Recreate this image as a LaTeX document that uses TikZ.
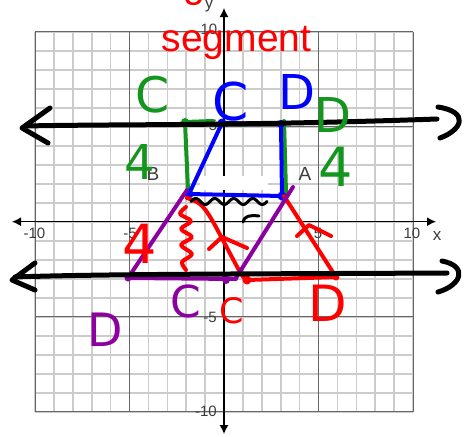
\documentclass[tikz,border=0pt]{standalone}
\usepackage{fontspec}
\setmainfont{Liberation Sans}
\newfontfamily\hand{DejaVu Sans}
\usetikzlibrary{arrows.meta}
\definecolor{hgreen}{RGB}{20,150,30}
\definecolor{hblue}{RGB}{0,0,255}
\definecolor{hred}{RGB}{255,0,0}
\definecolor{hpurple}{RGB}{140,0,160}
\definecolor{ticklab}{RGB}{60,60,60}
\begin{document}
\begin{tikzpicture}[x=1pt,y=-1pt,
  minorgrid/.style={draw=black!20,line width=1.6pt},
  majorgrid/.style={draw=black!60,line width=1pt},
  axisline/.style={draw=black,line width=1.3pt,{Latex[length=9pt,width=9pt]}-{Latex[length=9pt,width=9pt]}},
  ticktext/.style={inner sep=0pt,text=ticklab,font=\fontsize{15}{15}\selectfont},
  pointlab/.style={inner sep=0pt,text=ticklab,font=\fontsize{19}{19}\selectfont},
  titletext/.style={inner sep=0pt,text=hred,font=\fontsize{39}{39}\selectfont},
  pen/.style={line width=4pt,line cap=round,line join=round},
  blackline/.style={draw=black,line width=5pt,line cap=round,line join=round},
  thinpen/.style={draw=black,line width=3pt,line cap=round,line join=round},
  handlab/.style={inner sep=0pt,font=\hand\fontsize{#1}{#1}\selectfont},
  handlab/.default=48
]
\useasboundingbox (0,0) rectangle (467,437);
\clip (0,0) rectangle (467,437);
\fill[white] (0,0) rectangle (467,437);

% grid
\foreach \k in {0,...,20}{
  \draw[minorgrid] ({35+18.9*\k},31.7) -- ({35+18.9*\k},411.7);
  \draw[minorgrid] (35,{31.7+19*\k}) -- (413,{31.7+19*\k});
}
\foreach \k in {0,5,15,20}{
  \draw[majorgrid] ({35+18.9*\k},31.7) -- ({35+18.9*\k},411.7);
  \draw[majorgrid] (35,{31.7+19*\k}) -- (413,{31.7+19*\k});
}
% axes
\coordinate (xl) at (12,221.7);
\coordinate (xr) at (436,221.7);
\coordinate (yt) at (224,8);
\coordinate (yb) at (224,434);
\draw[axisline] (xl) -- (xr);
\draw[axisline] (yb) -- (yt);

% tick labels
\node[ticktext] (tm10) at (34.5,233) {-10};
\node[ticktext] (tm5) at (130,233) {-5};
\node[ticktext] (tp5) at (318,233) {5};
\node[ticktext] (tp10) at (412,233) {10};
\node[ticktext,font=\fontsize{17}{17}\selectfont] (xlab) at (437,236) {x};
\node[ticktext,font=\fontsize{17}{17}\selectfont] (ylab) at (209,6) {y};
\node[ticktext] (yp10) at (209,29) {10};
\node[ticktext] (yp5) at (213,125) {5};
\node[ticktext] (ym5) at (210,317) {-5};
\node[ticktext] (ym10) at (206,411) {-10};
\node[pointlab] (labB) at (153,174) {B};
\node[pointlab] (labA) at (305,174) {A};

% erased patch
\fill[white] (200,176) rectangle (268,190);

% key points
\coordinate (Bq) at (189,194);
\coordinate (Aq) at (282,196);
\coordinate (Cq) at (222,123);
\coordinate (Dq) at (281,124);
\coordinate (Gtl) at (185,122);
\coordinate (Rc) at (247,280);
\coordinate (Rd) at (336,277);
\coordinate (Pd) at (128,278);
\coordinate (Pc) at (226,280);

% green
\draw[pen,hgreen] (213,121) -- (Gtl) -- (188,190);
\draw[pen,hgreen] (284,121) -- (286,192);
\fill[hgreen] (Gtl) circle (4pt);

% blue quadrilateral
\draw[pen,hblue] (Bq) -- (Cq) -- (Dq) -- (Aq) -- cycle;
\fill[hblue] (Bq) circle (4.5pt) (Aq) circle (4.5pt) (Cq) circle (4.5pt) (Dq) circle (4pt);

% red
\draw[pen,hred] plot[smooth] coordinates {(187,198) (200,204) (212,220) (240,272) (Rc)};
\draw[pen,hred] (Rc) -- (Rd);
\draw[pen,hred] (284,196) -- (Rd);
\draw[pen,hred] (209,249) -- (222,237) -- (247,248);
\draw[pen,hred] (297,236) -- (309,225) -- (331,236);
\draw[pen,hred] plot[smooth] coordinates {(186,207) (180,214) (191,221) (181,229) (192,237) (181,245) (192,254) (182,262) (186,270)};
\fill[hred] (Rc) circle (4.5pt) (Rd) circle (3.5pt);

% purple
\draw[pen,hpurple] (187,190) -- (Pd);
\draw[pen,hpurple] (Pd) -- (236,279);
\draw[pen,hpurple] (293,187) -- (236,278);
\fill[hpurple] (Pd) circle (3.5pt) (Pc) circle (4pt);

% black marks
\draw[thinpen] plot[domain=0:76,samples=80,smooth] ({191+\x},{201.5-3*sin(18.947*\x)});
\draw[thinpen] (243,222) .. controls (244,216) and (250,215) .. (259,216);

% black lines with hand arrows
\draw[blackline] (25,126) .. controls (120,124) and (240,126) .. (437,119);
\draw[blackline] (50,108) -- (22,128) -- (48,143);
\draw[blackline] (438,107) .. controls (470,112) and (462,130) .. (440,138);
\draw[blackline] (15,277) .. controls (100,274) and (250,274) .. (447,273);
\draw[blackline] (35,263) -- (12,280) -- (35,290);
\draw[blackline] (442,261) .. controls (468,266) and (462,285) .. (438,292);

% titles (first line is cut off at the top edge, as in the reference)
\node[titletext,anchor=base west] (title1) at (14,-2.5) {Translating to the other line};
\node[titletext,anchor=base] (title2) at (236.5,51) {segment};

% hand letters
\node[handlab=49,text=hgreen] (gC) at (153,95) {C};
\node[handlab=48,text=hgreen] (g4l) at (140,162) {4};
\node[handlab=48,text=hgreen] (gD) at (333,115) {D};
\node[handlab=54,text=hgreen] (g4r) at (336,167) {4};
\node[handlab=52,text=hblue] (bC) at (231,102) {C};
\node[handlab=48,text=hblue] (bD) at (297,92) {D};
\node[handlab=54,text=hred] (r4) at (140,244) {4};
\node[handlab=35,text=hred] (rC) at (232,311) {C};
\node[handlab=50,text=hred] (rD) at (328,303) {D};
\node[handlab=44,text=hpurple] (pC) at (186,301) {C};
\node[handlab=46,text=hpurple] (pD) at (105,330) {D};
\end{tikzpicture}
\end{document}
